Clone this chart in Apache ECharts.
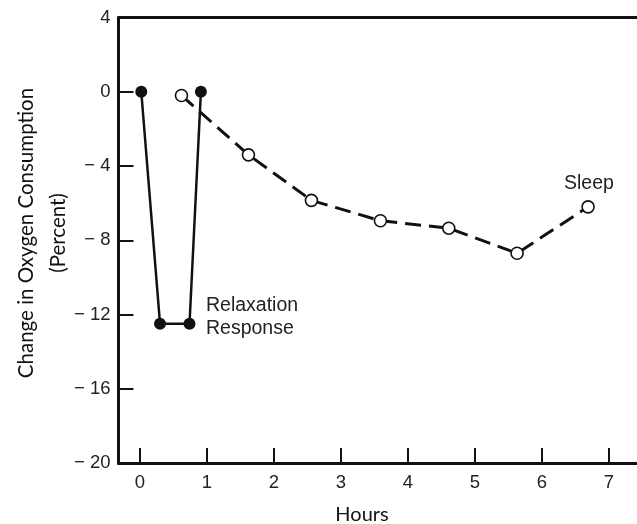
<!DOCTYPE html>
<html><head><meta charset="utf-8">
<script src="https://cdn.jsdelivr.net/npm/echarts@6/dist/echarts.min.js"></script>
<style>html,body{margin:0;padding:0;background:#fff}#c{width:637px;height:524px}</style>
</head><body><div id="c"></div>
<script>
// Relaxation response (filled dots, solid line)
var relaxX = [0.02, 0.3, 0.74, 0.91];
var relaxY = [0, -12.5, -12.5, 0];
// Sleep (open circles, dashed line)
var sleepX = [0.62, 1.62, 2.56, 3.59, 4.61, 5.63, 6.69];
var sleepY = [-0.2, -3.4, -5.85, -6.95, -7.35, -8.7, -6.2];
var yTicks = [-20, -16, -12, -8, -4, 0, 4];

var chart = echarts.init(document.getElementById('c'));
var ax = '#111';
var numFont = '"Liberation Sans", Arial, sans-serif';
chart.setOption({
  animation: false,
  grid: {left: 118.5, right: 0, top: 17.5, bottom: 61},
  xAxis: [{
    type: 'value', min: -0.32, max: 7.42, splitNumber: 8,
    axisLine: {show: true, onZero: false, lineStyle: {color: ax, width: 3}},
    axisTick: {show: true, inside: true, length: 15, lineStyle: {color: ax, width: 2}},
    axisLabel: {color: '#222', fontSize: 18.5, fontFamily: numFont, margin: 10, showMinLabel: false, showMaxLabel: false},
    splitLine: {show: false}
  }, {
    type: 'value', position: 'top', min: -0.32, max: 7.42,
    axisLine: {show: true, onZero: false, lineStyle: {color: ax, width: 3}},
    axisTick: {show: false}, axisLabel: {show: false}, splitLine: {show: false}
  }],
  yAxis: {
    type: 'value', min: yTicks[0], max: yTicks[yTicks.length - 1], interval: 4,
    axisLine: {show: true, onZero: false, lineStyle: {color: ax, width: 3}},
    axisTick: {show: true, inside: true, length: 15, lineStyle: {color: ax, width: 2}},
    axisLabel: {color: '#222', fontSize: 18.5, fontFamily: numFont, margin: 8,
      formatter: function (v) { return v < 0 ? '\u2212 ' + Math.abs(v) : String(v); }},
    splitLine: {show: false}
  },
  series: [{
    type: 'line', name: 'Sleep',
    data: sleepX.map(function (x, i) { return [x, sleepY[i]]; }),
    symbol: 'circle', symbolSize: 12,
    itemStyle: {color: '#fff', borderColor: ax, borderWidth: 1.6},
    lineStyle: {color: ax, width: 3, type: [16, 8]},
    z: 3
  }, {
    type: 'line', name: 'Relaxation Response',
    data: relaxX.map(function (x, i) { return [x, relaxY[i]]; }),
    symbol: 'circle', symbolSize: 12,
    itemStyle: {color: ax, borderColor: ax, borderWidth: 0},
    lineStyle: {color: ax, width: 2.5},
    z: 4
  }],
  graphic: [
    {type: 'text', left: 206, top: 294, style: {text: 'Relaxation\nResponse', font: '19.5px "Liberation Sans", Arial, sans-serif', fill: '#222', lineHeight: 23}},
    {type: 'text', left: 564, top: 174, style: {text: 'Sleep', font: '19.5px "Liberation Sans", Arial, sans-serif', fill: '#222'}},
    {type: 'text', x: 362, y: 515, style: {text: 'Hours', font: '20px Lato, sans-serif', fill: '#111', align: 'center', verticalAlign: 'middle'}},
    {type: 'text', x: 42, y: 233, rotation: Math.PI / 2, style: {text: 'Change in Oxygen Consumption\n(Percent)', font: '20.5px Lato, sans-serif', fill: '#111', align: 'center', verticalAlign: 'middle', lineHeight: 32}}
  ]
});
</script></body></html>
